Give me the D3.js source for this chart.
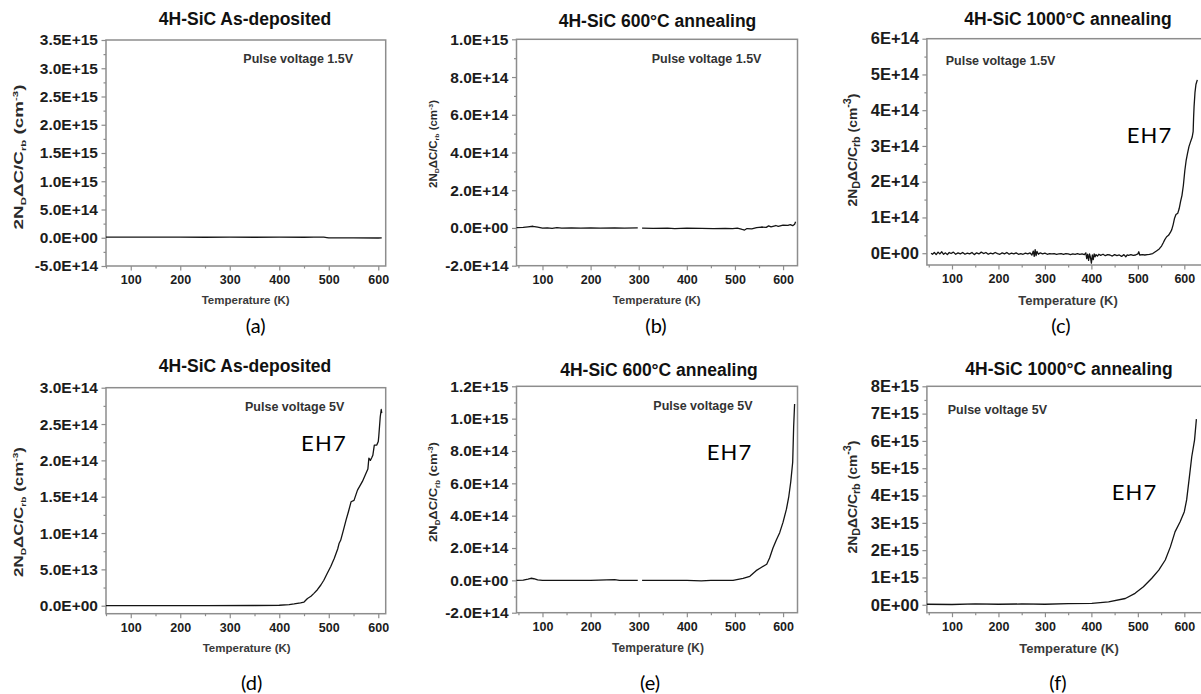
<!DOCTYPE html>
<html>
<head>
<meta charset="utf-8">
<script src="https://cdn.jsdelivr.net/npm/d3@7"></script>
<style>
  html, body { margin: 0; padding: 0; background: #fff; }
  svg { display: block; }
</style>
</head>
<body>
<svg id="fig" width="1201" height="694"></svg>
<script>
// ---------------- data ----------------
const titles = ["4H-SiC As-deposited", "4H-SiC 600\u00B0C annealing", "4H-SiC 1000\u00B0C annealing",
                "4H-SiC As-deposited", "4H-SiC 600\u00B0C annealing", "4H-SiC 1000\u00B0C annealing"];
const pulseLabels = ["Pulse voltage 1.5V", "Pulse voltage 1.5V", "Pulse voltage 1.5V",
                     "Pulse voltage 5V", "Pulse voltage 5V", "Pulse voltage 5V"];
const captions = ["(a)", "(b)", "(c)", "(d)", "(e)", "(f)"];
const peakLabel = "EH7";
const xAxisTitle = "Temperature (K)";

const xTicksMajor = [100, 200, 300, 400, 500, 600];
const xTicksMinor = [50, 150, 250, 350, 450, 550, 650];

const yTicksA = [-5e14, 0, 5e14, 1e15, 1.5e15, 2e15, 2.5e15, 3e15, 3.5e15];
const yTicksB = [-2e14, 0, 2e14, 4e14, 6e14, 8e14, 1e15];
const yTicksC = [0, 1e14, 2e14, 3e14, 4e14, 5e14, 6e14];
const yTicksD = [0, 5e13, 1e14, 1.5e14, 2e14, 2.5e14, 3e14];
const yTicksE = [-2e14, 0, 2e14, 4e14, 6e14, 8e14, 1e15, 1.2e15];
const yTicksF = [0, 1e15, 2e15, 3e15, 4e15, 5e15, 6e15, 7e15, 8e15];

// [temperature (K), 2N_D ΔC/C_rb (cm^-3)]; null marks a gap in the sweep
const seriesA = [[50,1.2e13],[100,1.0e13],[150,1.1e13],[200,1.0e13],[250,0.9e13],[300,1.0e13],
  [350,0.9e13],[400,1.0e13],[450,0.9e13],[470,1.2e13],[490,1.0e13],[496,0.4e13],[500,-0.2e13],
  [550,-0.3e13],[600,-0.4e13],[607,-0.3e13]];

const seriesB = [[46,0.2e13],[60,0.3e13],[70,0.6e13],[80,0.9e13],[90,0.4e13],[100,-0.1e13],
  [110,0.1e13],[120,-0.2e13],[130,0.2e13],[140,-0.1e13],[160,0],[180,-0.1e13],[200,0],
  [220,-0.1e13],[250,0.1e13],[270,-0.1e13],[298,0],[302,null],[307,-0.1e13],[330,-0.2e13],
  [360,-0.1e13],[375,-0.3e13],[400,-0.1e13],[430,-0.2e13],[455,-0.3e13],[480,-0.2e13],
  [495,-0.4e13],[505,-0.1e13],[515,-0.8e13],[520,-1.1e13],[525,-0.3e13],[535,-0.5e13],
  [545,0.2e13],[555,0.5e13],[565,0.3e13],[570,1.1e13],[575,0.6e13],[585,1.3e13],[590,0.8e13],
  [600,1.5e13],[610,1.4e13],[615,1.8e13],[620,1.2e13],[624,2.0e13],[626,3.3e13]];

const seriesC = [[55,0],[58,-0.3e13],[62,0.2e13],[66,-0.4e13],[70,0.3e13],[74,-0.2e13],
  [78,0.4e13],[82,-0.3e13],[86,0.1e13],[90,-0.4e13],[94,0.2e13],[98,-0.1e13],[103,0.3e13],
  [108,-0.3e13],[113,0.1e13],[118,-0.2e13],[123,0.2e13],[128,-0.3e13],[133,0],[138,-0.2e13],
  [143,0.2e13],[148,-0.4e13],[153,0.1e13],[158,-0.2e13],[163,0.3e13],[168,-0.1e13],
  [173,0.2e13],[178,-0.3e13],[183,0],[188,-0.2e13],[193,0.2e13],[198,-0.1e13],[203,-0.3e13],
  [208,0.1e13],[213,-0.2e13],[218,0.2e13],[223,-0.3e13],[228,0],[233,-0.2e13],[238,0.1e13],
  [243,-0.3e13],[248,-0.1e13],[253,-0.3e13],[258,0],[263,-0.2e13],[268,0.1e13],[272,-0.5e13],
  [275,0.6e13],[277,-0.9e13],[279,1.0e13],[281,-0.7e13],[283,0.5e13],[286,-0.3e13],
  [290,0.1e13],[295,-0.2e13],[300,0],[305,-0.3e13],[310,-0.1e13],[315,-0.2e13],[320,-0.1e13],
  [325,-0.3e13],[330,-0.2e13],[335,-0.1e13],[340,-0.3e13],[345,-0.1e13],[350,-0.2e13],
  [355,-0.4e13],[360,-0.2e13],[365,-0.3e13],[370,-0.1e13],[375,-0.3e13],[380,-0.2e13],
  [385,-0.4e13],[388,0.1e13],[390,-1.5e13],[392,-0.3e13],[394,-2.0e13],[396,-0.2e13],
  [398,-1.2e13],[400,-2.8e13],[402,-0.5e13],[404,-1.8e13],[406,-0.2e13],[408,-1.0e13],
  [410,-0.4e13],[413,-0.8e13],[416,-0.3e13],[420,-0.6e13],[425,-0.3e13],[430,-0.7e13],
  [435,-0.4e13],[440,-0.5e13],[445,-0.8e13],[450,-0.4e13],[455,-0.7e13],[460,-0.5e13],
  [465,-0.9e13],[470,-0.4e13],[474,-1.0e13],[477,-0.5e13],[480,-0.6e13],[485,-0.4e13],
  [490,-0.6e13],[495,-0.5e13],[500,-0.2e13],[502,0.4e13],[504,-0.5e13],[510,-0.4e13],
  [515,-0.5e13],[520,-0.4e13],[525,-0.3e13],[532,-0.1e13],[540,0.6e13],[546,1.2e13],
  [551,2.0e13],[555,3.0e13],[558,3.8e13],[562,4.6e13],[566,5.0e13],[570,5.8e13],[573,6.6e13],
  [576,8.0e13],[579,9.8e13],[582,1.08e14],[586,1.12e14],[589,1.25e14],[592,1.45e14],
  [595,1.62e14],[598,1.9e14],[601,2.3e14],[604,2.6e14],[607,2.8e14],[610,2.98e14],
  [613,3.1e14],[617,3.25e14],[619,3.4e14],[620,3.8e14],[621,4.1e14],[623,4.5e14],
  [625,4.72e14],[628,4.85e14]];

const seriesD = [[50,0],[150,0.1e12],[250,0.2e12],[350,0.3e12],[400,0.6e12],[420,1.5e12],
  [430,2.5e12],[443,4e12],[450,5e12],[457,1.0e13],[464,1.3e13],[470,1.7e13],[477,2.2e13],
  [484,2.85e13],[490,3.5e13],[497,4.46e13],[504,5.4e13],[511,6.5e13],[518,7.8e13],
  [521,8.6e13],[524,9.0e13],[530,1.05e14],[535,1.18e14],[540,1.3e14],[545,1.43e14],
  [551,1.45e14],[558,1.59e14],[568,1.71e14],[575,1.82e14],[579,1.88e14],[581,2.03e14],
  [584,2.0e14],[587,2.04e14],[589,2.07e14],[592,2.21e14],[597,2.21e14],[600,2.26e14],
  [601,2.33e14],[604,2.6e14],[606,2.7e14],[607,2.65e14]];

const seriesE = [[46,0],[60,0.2e13],[70,0.8e13],[76,1.3e13],[82,1.0e13],[90,0.3e13],[100,0],
  [150,0],[200,0],[250,0.4e13],[260,0],[298,0],[302,null],[307,0],[350,0],[400,0],
  [430,-0.3e13],[450,0],[496,0],[517,1.2e13],[531,2.5e13],[544,6.0e13],[552,7.5e13],
  [566,1.0e14],[572,1.38e14],[579,2.0e14],[586,2.5e14],[593,2.95e14],[600,3.6e14],
  [607,4.4e14],[612,5.2e14],[616,6.1e14],[620,7.3e14],[622,9.5e14],[624,1.09e15]];

const seriesF = [[46,0.02e15],[100,0.01e15],[150,0.03e15],[200,0.02e15],[250,0.03e15],
  [300,0.02e15],[350,0.04e15],[401,0.05e15],[437,0.11e15],[473,0.23e15],[494,0.42e15],
  [512,0.66e15],[530,0.97e15],[545,1.27e15],[559,1.64e15],[570,2.12e15],[580,2.67e15],
  [591,3.04e15],[600,3.41e15],[605,3.84e15],[611,4.69e15],[616,5.42e15],[622,6.03e15],
  [626,6.8e15]];

// ---------------- layout ----------------
const panels = [
  { series: seriesA, yTicks: yTicksA, dec: 1, frame: [106, 385.7, 40, 266], xDom: [50, 615], yDom: [-5e14, 3.5e15],
    title: [245, 25], pulse: [243.3, 63], cap: [255.7, 333], temp: [245.7, 304], tempSize: 11.5,
    ylab: { x: 18, y: 157, len: 145, size: 12.5, big: false }, peak: null, yFont: 15.5 },
  { series: seriesB, yTicks: yTicksB, dec: 1, frame: [516.5, 797.5, 39.3, 265.7], xDom: [46, 630], yDom: [-2e14, 1e15],
    title: [657.5, 27], pulse: [651.7, 63], cap: [656, 333], temp: [656.7, 304], tempSize: 11.5,
    ylab: { x: 433, y: 144, len: 88, size: 10, big: false }, peak: null, yFont: 15.5 },
  { series: seriesC, yTicks: yTicksC, dec: 0, frame: [926.9, 1202.9, 38.7, 265], xDom: [46, 640], yDom: [-0.33e14, 6e14],
    title: [1068, 25], pulse: [945.7, 65], cap: [1061, 333], temp: [1068, 305], tempSize: 13,
    ylab: { x: 852, y: 150, len: 113, size: 13, big: true }, peak: [1126.7, 142.7], yFont: 16.5 },
  { series: seriesD, yTicks: yTicksD, dec: 1, frame: [106, 385.7, 387.7, 613.7], xDom: [50, 615], yDom: [-1.1e13, 3e14],
    title: [245, 372], pulse: [245, 411], cap: [251.7, 690], temp: [246.7, 652], tempSize: 11.5,
    ylab: { x: 18, y: 512, len: 130, size: 12.5, big: false }, peak: [301, 451.3], yFont: 15.5 },
  { series: seriesE, yTicks: yTicksE, dec: 1, frame: [516.5, 797.5, 386.3, 612.7], xDom: [46, 630], yDom: [-2e14, 1.2e15],
    title: [659, 376], pulse: [653.3, 410.3], cap: [650, 690], temp: [658, 652], tempSize: 12,
    ylab: { x: 433, y: 492, len: 100, size: 11, big: false }, peak: [706.7, 460.3], yFont: 15.5 },
  { series: seriesF, yTicks: yTicksF, dec: 0, frame: [926.9, 1202.9, 386.3, 612.7], xDom: [46, 640], yDom: [-0.29e15, 8e15],
    title: [1069, 375], pulse: [947.7, 413.7], cap: [1058, 690], temp: [1069, 653], tempSize: 13,
    ylab: { x: 852, y: 497, len: 113, size: 13, big: true }, peak: [1111.7, 500.3], yFont: 16.5 }
];

const SANS = "'Liberation Sans', Arial, Helvetica, sans-serif";
const CAPTION_FONT = "Lato, 'Open Sans', sans-serif";
const AXIS_GREY = "#8d8d8d";

// scientific tick labels such as 2.5E+15 or 4E+14
function fmtSci(d, dec) {
  if (d === 0) return (0).toFixed(dec) + "E+00";
  const e = Math.floor(Math.log10(Math.abs(d)) + 1e-9);
  const m = d / Math.pow(10, e);
  return m.toFixed(dec) + "E" + (e < 0 ? "-" : "+") + String(Math.abs(e)).padStart(2, "0");
}

const svg = d3.select("#fig");
svg.append("rect").attr("width", 1201).attr("height", 694).attr("fill", "#fff");

panels.forEach((p, i) => {
  const [x0, x1, y0, y1] = p.frame;
  const x = d3.scaleLinear().domain(p.xDom).range([x0, x1]);
  const y = d3.scaleLinear().domain(p.yDom).range([y1, y0]);
  const g = svg.append("g");

  // bottom axis: major + minor ticks, pointing outward
  const inX = v => v >= p.xDom[0] && v <= p.xDom[1];
  const gxMinor = g.append("g").attr("transform", `translate(0,${y1})`)
    .call(d3.axisBottom(x).tickValues(xTicksMinor.filter(inX)).tickSize(2.5).tickSizeOuter(0).tickFormat(""));
  const gx = g.append("g").attr("transform", `translate(0,${y1})`)
    .call(d3.axisBottom(x).tickValues(xTicksMajor).tickSize(4.5).tickSizeOuter(0).tickPadding(5).tickFormat(d3.format("d")));

  // left axis
  const yMinor = d3.pairs(p.yTicks).map(([a, b]) => (a + b) / 2);
  const gyMinor = g.append("g").attr("transform", `translate(${x0},0)`)
    .call(d3.axisLeft(y).tickValues(yMinor).tickSize(2.5).tickSizeOuter(0).tickFormat(""));
  const gy = g.append("g").attr("transform", `translate(${x0},0)`)
    .call(d3.axisLeft(y).tickValues(p.yTicks).tickSize(4.5).tickSizeOuter(0).tickPadding(3.5)
      .tickFormat(d => fmtSci(d, p.dec)));

  [gx, gxMinor, gy, gyMinor].forEach(a => {
    a.select(".domain").remove();
    a.selectAll(".tick line").attr("stroke", AXIS_GREY).attr("stroke-width", 1.2);
  });
  gx.selectAll(".tick text").attr("font-family", SANS).attr("font-weight", "bold")
    .attr("font-size", 12.5).attr("fill", "#1c1c1c");
  gy.selectAll(".tick text").attr("font-family", SANS).attr("font-weight", "bold")
    .attr("font-size", p.yFont).attr("fill", "#1c1c1c");

  // plot frame
  g.append("rect").attr("x", x0).attr("y", y0).attr("width", x1 - x0).attr("height", y1 - y0)
    .attr("fill", "none").attr("stroke", AXIS_GREY).attr("stroke-width", 1.5);

  // measured curve
  const line = d3.line().defined(d => d[1] !== null).x(d => x(d[0])).y(d => y(d[1]));
  g.append("path").datum(p.series).attr("d", line)
    .attr("fill", "none").attr("stroke", "#141414").attr("stroke-width", 1.3)
    .attr("stroke-linejoin", "round");

  // panel title
  g.append("text").attr("x", p.title[0]).attr("y", p.title[1]).attr("text-anchor", "middle")
    .attr("font-family", SANS).attr("font-weight", "bold").attr("font-size", 17.5).attr("fill", "#111")
    .text(titles[i]);

  // pulse annotation
  g.append("text").attr("x", p.pulse[0]).attr("y", p.pulse[1])
    .attr("font-family", SANS).attr("font-weight", "bold").attr("font-size", 12.5).attr("fill", "#333")
    .text(pulseLabels[i]);

  // x-axis title
  g.append("text").attr("x", p.temp[0]).attr("y", p.temp[1]).attr("text-anchor", "middle")
    .attr("font-family", SANS).attr("font-weight", "bold").attr("font-size", p.tempSize).attr("fill", "#3a3a3a")
    .text(xAxisTitle);

  // y-axis title: 2N_D ΔC/C_rb (cm^-3)
  const yl = p.ylab;
  const subSize = yl.big ? 0.78 : 0.6;
  const yg = g.append("g").attr("transform", `translate(${yl.x + yl.size * 0.36},${yl.y}) rotate(-90)`);
  const yt = yg.append("text").attr("text-anchor", "middle")
    .attr("font-family", SANS).attr("font-weight", "bold").attr("font-size", yl.size).attr("fill", "#2a2a2a");
  yt.append("tspan").text("2N");
  yt.append("tspan").attr("font-size", yl.size * subSize).attr("dy", yl.size * 0.28).text("D");
  yt.append("tspan").attr("dy", -yl.size * 0.28).text("\u0394C/C");
  yt.append("tspan").attr("font-size", yl.size * subSize).attr("dy", yl.size * 0.28).text("rb");
  yt.append("tspan").attr("dy", -yl.size * 0.28).text(" (cm");
  yt.append("tspan").attr("font-size", yl.size * subSize).attr("dy", -yl.size * 0.4).text("-3");
  yt.append("tspan").attr("dy", yl.size * 0.4).text(")");
  const measured = yt.node().getComputedTextLength();
  if (measured > 0) yt.attr("transform", `scale(${yl.len / measured},1)`);

  // trap label
  if (p.peak) {
    g.append("text").attr("x", p.peak[0]).attr("y", p.peak[1])
      .attr("font-family", CAPTION_FONT).attr("font-size", 22).attr("letter-spacing", 1.2).attr("fill", "#000")
      .text(peakLabel);
  }

  // sub-figure caption
  g.append("text").attr("x", p.cap[0]).attr("y", p.cap[1]).attr("text-anchor", "middle")
    .attr("font-family", CAPTION_FONT).attr("font-size", 20).attr("fill", "#000")
    .text(captions[i]);
});
</script>
</body>
</html>
